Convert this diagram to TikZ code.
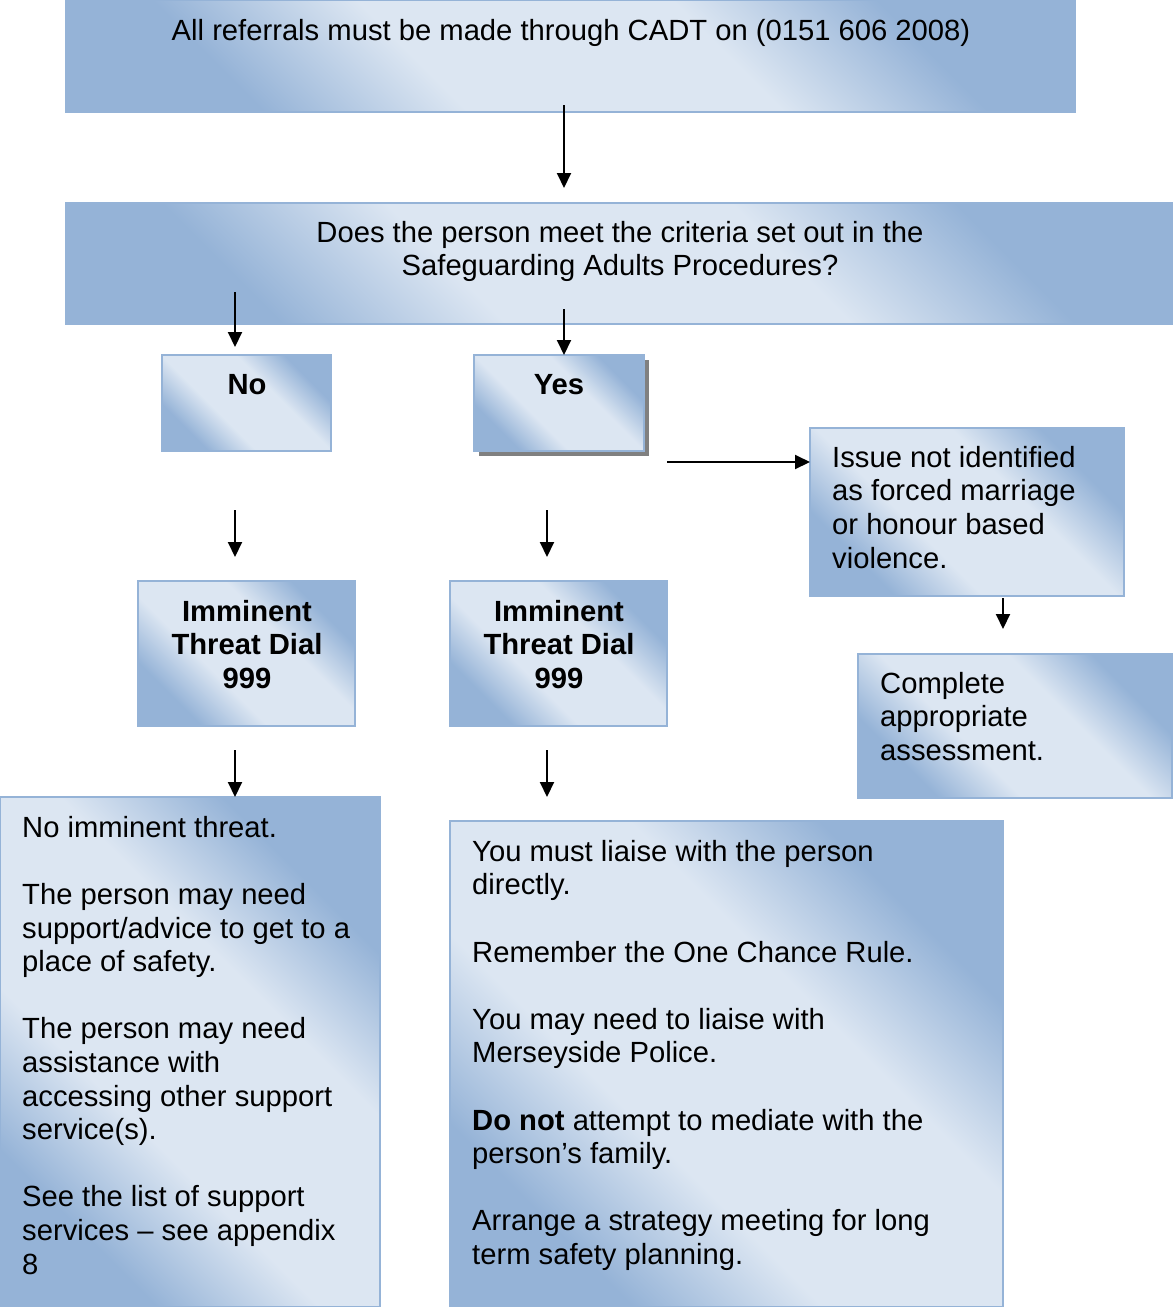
\documentclass[tikz,border=0pt]{standalone}
\usepackage{fontspec}
\setmainfont{Liberation Sans}
\usetikzlibrary{arrows.meta,shadows}
\definecolor{lt}{HTML}{DCE6F2}
\definecolor{dk}{HTML}{95B3D7}
\definecolor{bd}{HTML}{95B3D7}
\definecolor{shd}{HTML}{808080}
\pgfdeclarehorizontalshading{boxshade}{100bp}{color(0bp)=(dk);color(27bp)=(dk);color(40bp)=(lt);color(60bp)=(lt);color(73bp)=(dk);color(100bp)=(dk)}
\tikzset{
  box/.style={draw=bd, line width=2.5pt, shading=boxshade, shading angle=45, rectangle, inner sep=0pt, outer sep=0pt, anchor=north west},
  txt/.style={inner sep=0pt, font=\fontsize{29.2}{33.6}\selectfont},
  arr/.style={line width=2pt, -{Triangle[width=14pt,length=15pt]}},
}
\begin{document}
\begin{tikzpicture}[x=1pt,y=-1pt]
\useasboundingbox (0,0) rectangle (1173,1307);
% boxes
\node[box, minimum width=1009, minimum height=112] (b1) at (66,0) {};
\node[box, minimum width=1106, minimum height=121] (b2) at (66,203) {};
\node[box, minimum width=169, minimum height=96] (bno) at (162,355) {};
\node[box, minimum width=170, minimum height=96, drop shadow={shadow xshift=5pt, shadow yshift=-5pt, fill=shd, opacity=1}] (byes) at (474,355) {};
\node[box, minimum width=314, minimum height=168] (biss) at (810,428) {};
\node[box, minimum width=314, minimum height=144] (bcom) at (858,654) {};
\node[box, minimum width=217, minimum height=145] (bil) at (138,581) {};
\node[box, minimum width=217, minimum height=145] (bir) at (450,581) {};
\node[box, minimum width=380, minimum height=510] (bni) at (0,797) {};
\node[box, minimum width=553, minimum height=486] (bli) at (450,821) {};
% texts
\node[txt, anchor=north] (t1) at (571,16.5) {\strut All referrals must be made through CADT on (0151 606 2008)};
\node[txt, anchor=north, align=center] (t2) at (620,218.5) {\strut Does the person meet the criteria set out in the\\Safeguarding Adults Procedures?};
\node[txt, anchor=north, font=\fontsize{29.2}{33.6}\selectfont\bfseries] (tno) at (247,370.5) {\strut No};
\node[txt, anchor=north, font=\fontsize{29.2}{33.6}\selectfont\bfseries] (tyes) at (559,370.5) {\strut Yes};
\node[txt, anchor=north west, align=left] (tiss) at (832,443.5) {\strut Issue not identified\\as forced marriage\\or honour based\\violence.};
\node[txt, anchor=north west, align=left] (tcom) at (880,669.5) {\strut Complete\\appropriate\\assessment.};
\node[txt, anchor=north, align=center, font=\fontsize{29.2}{33.6}\selectfont\bfseries] (til) at (247,597.5) {\strut Imminent\\Threat Dial\\999};
\node[txt, anchor=north, align=center, font=\fontsize{29.2}{33.6}\selectfont\bfseries] (tir) at (559,597.5) {\strut Imminent\\Threat Dial\\999};
\node[txt, anchor=north west, align=left] (tni) at (22,813.5) {\strut No imminent threat.\\[33.6pt]The person may need\\support/advice to get to a\\place of safety.\\[33.6pt]The person may need\\assistance with\\accessing other support\\service(s).\\[33.6pt]See the list of support\\services – see appendix\\8};
\node[txt, anchor=north west, align=left] (tli) at (472,837.5) {\strut You must liaise with the person\\directly.\\[33.6pt]Remember the One Chance Rule.\\[33.6pt]You may need to liaise with\\Merseyside Police.\\[33.6pt]\textbf{Do not} attempt to mediate with the\\person’s family.\\[33.6pt]Arrange a strategy meeting for long\\term safety planning.};
% arrow coordinates
\coordinate (s1) at (564,105);   \coordinate (e1) at (564,188);
\coordinate (s2) at (235,292);   \coordinate (e2) at (235,347);
\coordinate (s3) at (564,309);
\coordinate (s4) at (667,462);
\coordinate (s5) at (235,510);   \coordinate (e5) at (235,557);
\coordinate (s6) at (547,510);   \coordinate (e6) at (547,557);
\coordinate (s7) at (1003,598);  \coordinate (e7) at (1003,629);
\coordinate (s8) at (235,750);
\coordinate (s9) at (547,750);   \coordinate (e9) at (547,797);
% arrows
\draw[arr] (s1) -- (e1);
\draw[arr] (s2) -- (e2);
\draw[arr] (s3) -- (s3 |- byes.north);
\draw[arr] (s4) -- (s4 -| biss.west);
\draw[arr] (s5) -- (e5);
\draw[arr] (s6) -- (e6);
\draw[arr] (s7) -- (e7);
\draw[arr] (s8) -- (s8 |- bni.north);
\draw[arr] (s9) -- (e9);
\end{tikzpicture}
\end{document}
